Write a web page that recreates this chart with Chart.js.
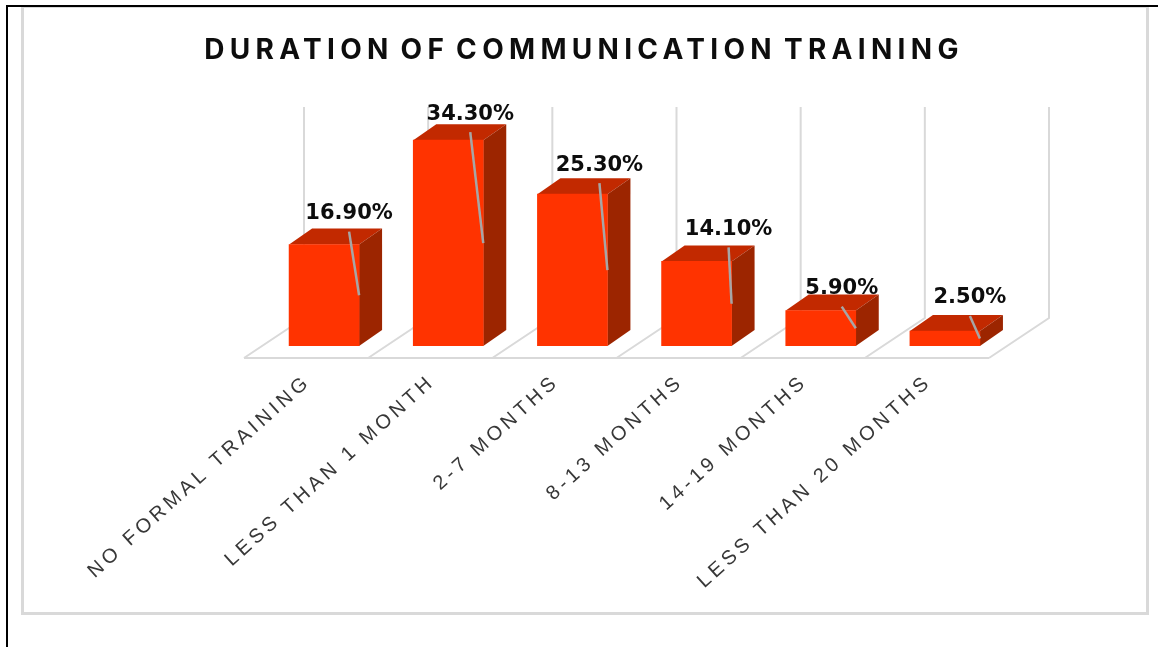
<!DOCTYPE html>
<html>
<head>
<meta charset="utf-8">
<title>Duration of communication training</title>
<style>
    html, body { margin: 0; padding: 0; background: #fff; overflow: hidden; }
    #page-edge { position: absolute; left: 6px; top: 5px; width: 1152px; height: 642px; box-sizing: border-box; border-left: 2px solid #000; border-top: 2px solid #000; }
    #frame { position: absolute; left: 21px; top: 7px; width: 1128px; height: 608px; box-sizing: border-box; border: 3px solid #d9d9d9; border-top-width: 1px; }
    #chart { position: absolute; left: 24px; top: 11px; }
</style>
</head>
<body>
<div id="page-edge"></div>
<div id="frame"></div>
<canvas id="chart" width="1121" height="601"></canvas>
<script src="https://cdn.jsdelivr.net/npm/chart.js@4"></script>
<script>
const titleText = 'DURATION OF COMMUNICATION TRAINING';
const categories = ['NO FORMAL TRAINING', 'LESS THAN 1 MONTH', '2-7 MONTHS', '8-13 MONTHS', '14-19 MONTHS', 'LESS THAN 20 MONTHS'];
const shares = [16.9, 34.3, 25.3, 14.1, 5.9, 2.5];

// Data labels are hand placed in the original, relative to the bar's top centre
const labelShiftX = [25, 22, 27, 32, 21, 25];
const labelShiftY = [-31, -26, -29, -32, -22, -33];

const DEPTH_X = 23;
const DEPTH_Y = 16;

// Fake 3D: floor and walls behind the bars, top and side faces for each bar
const boxPlugin = {
    id: 'box3d',
    afterLayout(chart) {
        // The title is centred on the whole picture, not on the plot
        chart.titleBlock.left = 0;
        chart.titleBlock.right = 1120;
    },
    beforeDraw(chart) {
        // picked up by the title
        chart.ctx.letterSpacing = '5.3px';
        chart.ctx.wordSpacing = '-5px';
    },
    beforeDatasetsDraw(chart) {
        const ctx = chart.ctx;
        const area = chart.chartArea;
        const step = (area.right - area.left) / categories.length;

        ctx.save();
        ctx.strokeStyle = '#d9d9d9';
        ctx.lineWidth = 2;
        for (let i = 0; i <= categories.length; i++) {
            const x = area.left + i * step;
            ctx.beginPath();
            ctx.moveTo(x - 18, area.bottom + 12);
            ctx.lineTo(x + 42, area.bottom - 28);
            ctx.lineTo(x + 42, area.top + 1);
            ctx.stroke();
        }
        ctx.beginPath();
        ctx.moveTo(area.left - 18, area.bottom + 12);
        ctx.lineTo(area.right - 18, area.bottom + 12);
        ctx.stroke();

        chart.getDatasetMeta(0).data.forEach(function (bar) {
            const left = bar.x - bar.width / 2;
            const right = bar.x + bar.width / 2;
            ctx.fillStyle = '#c22900';
            ctx.beginPath();
            ctx.moveTo(left, bar.y);
            ctx.lineTo(left + DEPTH_X, bar.y - DEPTH_Y);
            ctx.lineTo(right + DEPTH_X, bar.y - DEPTH_Y);
            ctx.lineTo(right, bar.y);
            ctx.closePath();
            ctx.fill();
            ctx.fillStyle = '#9c2500';
            ctx.beginPath();
            ctx.moveTo(right, bar.y);
            ctx.lineTo(right + DEPTH_X, bar.y - DEPTH_Y);
            ctx.lineTo(right + DEPTH_X, bar.base - DEPTH_Y);
            ctx.lineTo(right, bar.base);
            ctx.closePath();
            ctx.fill();
        });
        ctx.restore();
    },
    afterDatasetsDraw(chart) {
        const ctx = chart.ctx;
        ctx.save();
        ctx.letterSpacing = '0px';
        ctx.wordSpacing = '0px';
        ctx.font = 'bold 21px "DejaVu Sans"';
        ctx.textAlign = 'center';
        ctx.textBaseline = 'middle';
        chart.getDatasetMeta(0).data.forEach(function (bar, i) {
            const x = bar.x + labelShiftX[i];
            const y = bar.y + labelShiftY[i];
            // Leader line from under the label to the bar's right edge
            ctx.strokeStyle = '#a6a6a6';
            ctx.lineWidth = 2.5;
            ctx.beginPath();
            ctx.moveTo(x, y + 18);
            ctx.lineTo(bar.x + bar.width / 2, (bar.y + bar.base) / 2);
            ctx.stroke();
            ctx.fillStyle = '#0d0d0d';
            ctx.fillText(shares[i].toFixed(2) + '%', x, y);
        });
        ctx.restore();
        // picked up by the x axis labels (ticks.z = 1)
        ctx.letterSpacing = '4px';
        ctx.wordSpacing = '0px';
    }
};

new Chart(document.getElementById('chart').getContext('2d'), {
    type: 'bar',
    data: {
        labels: categories,
        datasets: [{
            data: shares,
            backgroundColor: '#ff3300',
            borderWidth: 0,
            barThickness: 70
        }]
    },
    options: {
        responsive: false,
        animation: false,
        layout: { padding: { left: 238, right: 138, top: 0, bottom: 0 } },
        plugins: {
            legend: { display: false },
            tooltip: { enabled: false },
            title: {
                display: true,
                text: titleText,
                color: '#0d0d0d',
                font: { family: 'Inter', size: 28, weight: 'bold', lineHeight: 1.2 },
                padding: { top: 23, bottom: 38.4 }
            }
        },
        scales: {
            x: {
                grid: { display: false },
                border: { display: false },
                afterFit(scale) { scale.height = 266; },
                ticks: {
                    z: 1,
                    autoSkip: false,
                    minRotation: 42,
                    maxRotation: 42,
                    labelOffset: -16,
                    padding: 16,
                    color: '#383838',
                    font: { family: '"Liberation Sans"', size: 20 }
                }
            },
            y: {
                display: false,
                min: 0,
                max: 40
            }
        }
    },
    plugins: [boxPlugin]
});
</script>
</body>
</html>
